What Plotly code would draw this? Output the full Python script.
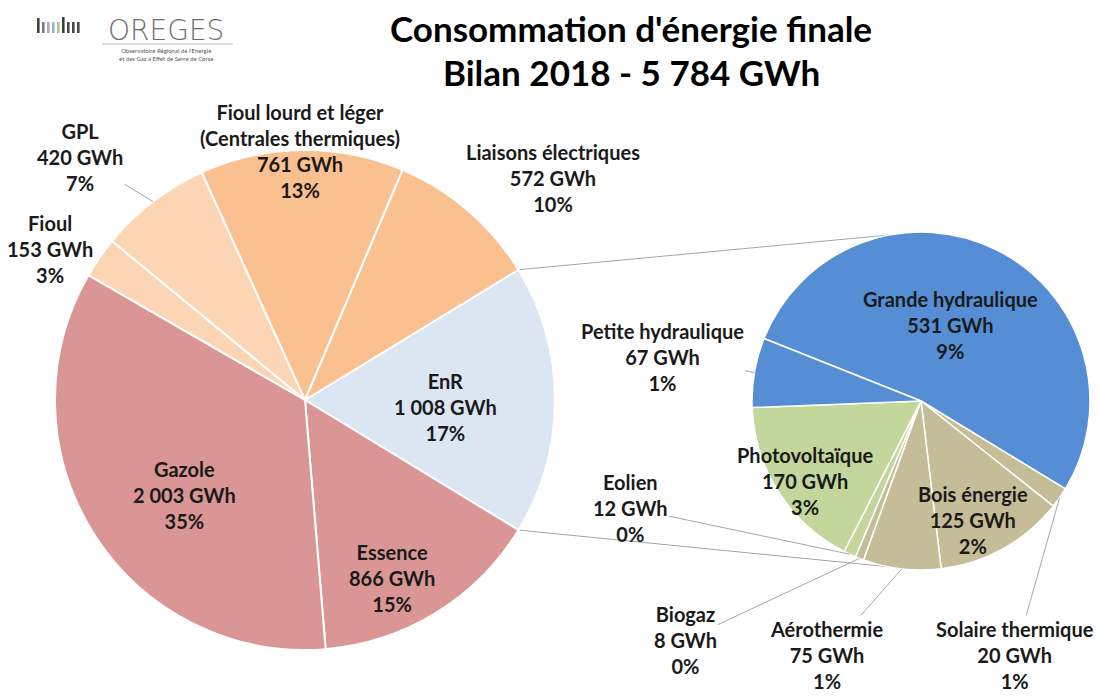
import math
import plotly.graph_objects as go

W, H = 1099, 700

# main pie, listed clockwise starting with the EnR slice
main_labels = ["EnR", "Essence", "Gazole", "Fioul", "GPL",
               "Fioul lourd et léger<br>(Centrales thermiques)", "Liaisons électriques"]
main_values = [1008, 866, 2003, 153, 420, 761, 572]
main_gwh = ["1 008", "866", "2 003", "153", "420", "761", "572"]
main_pct = [17, 15, 35, 3, 7, 13, 10]
main_colors = ["#DCE6F2", "#D99694", "#D99694", "#FCD5B5", "#FCD5B5", "#FAC090", "#FAC090"]

# EnR detail pie, listed clockwise starting with Grande hydraulique
enr_labels = ["Grande hydraulique", "Solaire thermique", "Bois énergie", "Aérothermie",
              "Biogaz", "Eolien", "Photovoltaïque", "Petite hydraulique"]
enr_values = [531, 20, 125, 75, 8, 12, 170, 67]
enr_pct = [9, 1, 2, 1, 0, 0, 3, 1]
enr_colors = ["#558ED5", "#C4BD97", "#C4BD97", "#C4BD97",
              "#C4BD97", "#C3D69B", "#C3D69B", "#558ED5"]

title_1 = "Consommation d'énergie finale"
title_2 = "Bilan 2018 - 5 784 GWh"

# layout (pixels)
main_c, main_r, main_rot = (305, 400), 250, 58.6
enr_c, enr_r, enr_rot = (921, 401), 169, -68.3

main_pos = [(445, 407), (392, 578), (185, 495), (50, 249), (80, 157), (300, 151), (553, 178)]
main_lead = [False, False, False, False, True, False, True]
enr_pos = [(950, 325), (1015, 655), (973, 520), (826, 655),
           (685, 640), (630, 508), (805, 481), (662, 357)]
enr_lead = [False, True, False, True, True, True, False, True]

FONT = "Lato, 'Open Sans', sans-serif"
TXT = "#1a1a1a"
LBL = 20


def domain(c, r):
    return dict(x=[(c[0] - r) / W, (c[0] + r) / W],
                y=[1 - (c[1] + r) / H, 1 - (c[1] - r) / H])


def edge_angle(values, i, rot, frac):
    # math angle (deg) inside slice i, for a clockwise pie with plotly rotation rot
    total = sum(values)
    return 90 - rot - 360 * (sum(values[:i]) + values[i] * frac) / total


def on_circle(c, r, ang):
    a = math.radians(ang)
    return c[0] + r * math.cos(a), c[1] - r * math.sin(a)


fig = go.Figure()
fig.add_trace(go.Pie(labels=main_labels, values=main_values, sort=False,
                     direction="clockwise", rotation=main_rot,
                     marker=dict(colors=main_colors, line=dict(color="white", width=2)),
                     textinfo="none", hoverinfo="label+value", domain=domain(main_c, main_r),
                     showlegend=False))
fig.add_trace(go.Pie(labels=enr_labels, values=enr_values, sort=False,
                     direction="clockwise", rotation=enr_rot,
                     marker=dict(colors=enr_colors, line=dict(color="white", width=1.5)),
                     textinfo="none", hoverinfo="label+value", domain=domain(enr_c, enr_r),
                     showlegend=False))

annotations = []


def add_labels(labels, values, gwh, pct, pos, lead, c, r, rot):
    for i, lab in enumerate(labels):
        txt = f"<b>{lab}<br>{gwh[i]} GWh<br>{pct[i]}%</b>"
        px, py = pos[i]
        if lead[i]:
            tx, ty = on_circle(c, r, edge_angle(values, i, rot, 0.5))
            annotations.append(dict(x=tx / W, y=1 - ty / H, xref="paper", yref="paper",
                                    ax=px - tx, ay=py - ty, text=txt, showarrow=True,
                                    arrowhead=0, arrowwidth=1, arrowcolor="#A6A6A6",
                                    standoff=0, startstandoff=0,
                                    font=dict(family=FONT, size=LBL, color=TXT)))
        else:
            annotations.append(dict(x=px / W, y=1 - py / H, xref="paper", yref="paper",
                                    text=txt, showarrow=False, xanchor="center",
                                    yanchor="middle",
                                    font=dict(family=FONT, size=LBL, color=TXT)))


add_labels(main_labels, main_values, main_gwh, main_pct, main_pos, main_lead,
           main_c, main_r, main_rot)
add_labels(enr_labels, enr_values, [str(v) for v in enr_values], enr_pct, enr_pos, enr_lead,
           enr_c, enr_r, enr_rot)

# titles
for ty, t in [(28, title_1), (72, title_2)]:
    annotations.append(dict(x=631 / W, y=1 - ty / H, xref="paper", yref="paper",
                            showarrow=False, xanchor="center", yanchor="middle",
                            text=f"<b>{t}</b>", font=dict(family=FONT, size=35, color="black")))

# logo
annotations.append(dict(x=166 / W, y=1 - 31 / H, xref="paper", yref="paper", showarrow=False,
                        xanchor="center", yanchor="middle", text="OREGES",
                        font=dict(family="'DejaVu Sans'", size=28, color="#6e6e6e", weight=200)))
annotations.append(dict(x=166 / W, y=1 - 55 / H, xref="paper", yref="paper", showarrow=False,
                        xanchor="center", yanchor="middle",
                        text="Observatoire Régional de l'Energie<br>et des Gaz à Effet de Serre de Corse",
                        font=dict(family=FONT, size=6, color="#555555")))

shapes = []
# pie-of-pie connector lines (EnR slice edges -> top / bottom of detail pie)
for frac, end_y in [(0, enr_c[1] - enr_r), (1, enr_c[1] + enr_r)]:
    sx, sy = on_circle(main_c, main_r, edge_angle(main_values, 0, main_rot, frac))
    shapes.append(dict(type="line", xref="paper", yref="paper", layer="below",
                       x0=sx / W, y0=1 - sy / H, x1=enr_c[0] / W, y1=1 - end_y / H,
                       line=dict(color="#A6A6A6", width=1)))

# logo bars
logo_bars = [(37, 18, "#3f3f3f"), (42, 22, "#7a7a7a"), (47, 22, "#b79fc9"), (52, 22, "#8fb8dc"),
             (57, 22, "#a9c98c"), (62, 17, "#3f3f3f"), (67, 22, "#4a4a4a"), (72, 22, "#4a4a4a"),
             (77, 22, "#4a4a4a")]
for bx, top, col in logo_bars:
    shapes.append(dict(type="rect", xref="paper", yref="paper", x0=bx / W, x1=(bx + 2.6) / W,
                       y0=1 - 33 / H, y1=1 - top / H, fillcolor=col, line=dict(width=0)))
shapes.append(dict(type="line", xref="paper", yref="paper", x0=102 / W, x1=233 / W,
                   y0=1 - 44 / H, y1=1 - 44 / H, line=dict(color="#bfbfbf", width=1)))

fig.update_layout(width=W, height=H, margin=dict(l=0, r=0, t=0, b=0),
                  paper_bgcolor="white", plot_bgcolor="white",
                  annotations=annotations, shapes=shapes,
                  font=dict(family=FONT, color=TXT))

fig.write_html("out.html", config={"displayModeBar": False},
               post_script="document.body.style.margin='0px';")
